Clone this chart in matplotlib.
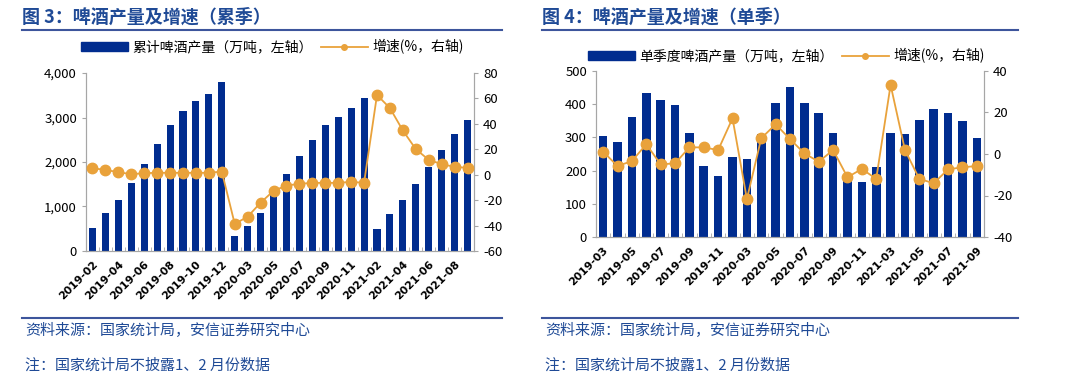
import matplotlib
matplotlib.use("Agg")
import matplotlib.pyplot as plt
from matplotlib.lines import Line2D
from matplotlib.ticker import FuncFormatter, MultipleLocator
import numpy as np

plt.rcParams['font.family'] = ['Noto Sans CJK SC', 'DejaVu Sans']
plt.rcParams['axes.unicode_minus'] = False

BAR_COLOR = "#002C8F"
LINE_COLOR = "#E9A23B"
TITLE_COLOR = "#1F4A96"
RULE_COLOR = "#3D559C"
SPINE_COLOR = "#A6A6A6"

# 图3 累计数据 (2019-02 .. 2021-09, 无1月)
cum_months = (["2019-%02d" % m for m in range(2, 13)]
              + ["2020-%02d" % m for m in range(2, 13)]
              + ["2021-%02d" % m for m in range(2, 10)])
cum_output = [525, 848, 1141, 1531, 1951, 2402, 2822, 3145, 3370, 3535, 3790,
              338, 570, 848, 1260, 1726, 2146, 2499, 2822, 3009, 3204, 3437,
              488, 826, 1141, 1501, 1891, 2274, 2627, 2949]
cum_growth = [5.1, 3.8, 2.0, 0.4, 1.2, 1.5, 1.5, 1.5, 1.5, 1.5, 2.5,
              -38.7, -33.0, -22.0, -12.7, -8.5, -7.2, -6.4, -6.4, -6.4, -5.6, -6.4,
              62.7, 52.4, 34.8, 20.1, 11.7, 8.3, 6.2, 5.4]

# 图4 单月数据 (2019-03 .. 2021-09, 无1、2月)
sgl_months = (["2019-%02d" % m for m in range(3, 13)]
              + ["2020-%02d" % m for m in range(3, 13)]
              + ["2021-%02d" % m for m in range(3, 10)])
sgl_output = [304, 287, 360, 434, 412, 399, 314, 214, 184, 240,
              235, 311, 404, 452, 404, 374, 314, 177, 166, 210,
              314, 309, 352, 387, 374, 349, 297]
sgl_growth = [1.1, -5.8, -3.4, 4.7, -5.0, -4.5, 3.2, 3.2, 1.9, 17.2,
              -21.7, 7.6, 14.3, 7.2, 0.3, -3.7, 1.9, -11.2, -7.2, -12.0,
              33.3, 1.9, -12.0, -14.1, -7.4, -6.4, -5.8]

W, H = 1080, 391
fig = plt.figure(figsize=(W / 100, H / 100), dpi=100)


def px_axes(x0, y0, x1, y1):
    return fig.add_axes([x0 / W, 1 - y1 / H, (x1 - x0) / W, (y1 - y0) / H])


def draw_panel(ax, months, output, growth, ylim_l, step_l, ylim_r, step_r,
               bar_label, bar_w, comma):
    n = len(months)
    x = np.arange(n)
    ax.bar(x, output, width=bar_w, color=BAR_COLOR, zorder=2)
    ax.set_xlim(-0.4, n - 0.6)
    ax.set_ylim(*ylim_l)
    ax.yaxis.set_major_locator(MultipleLocator(step_l))
    if comma:
        ax.yaxis.set_major_formatter(FuncFormatter(lambda v, p: "{:,.0f}".format(v)))
    ax.set_xticks(x[::2])
    ax.set_xticklabels(months[::2], rotation=45, ha="right", rotation_mode="anchor",
                       fontsize=7.8, fontweight="bold", family=["DejaVu Sans"])
    ax.set_xticks(np.arange(n + 1) - 0.5, minor=True)
    ax.tick_params(axis="x", which="major", length=0, pad=6)
    ax.tick_params(axis="x", which="minor", length=3, direction="in", color=SPINE_COLOR)
    ax.tick_params(axis="y", labelsize=9.5, length=3, color=SPINE_COLOR)
    for s in ["left", "bottom", "right"]:
        ax.spines[s].set_color(SPINE_COLOR)
    ax.spines["top"].set_visible(False)

    ax2 = ax.twinx()
    ax2.plot(x, growth, color=LINE_COLOR, lw=1.3, marker="o", ms=7.5, zorder=3)
    ax2.set_ylim(*ylim_r)
    ax2.yaxis.set_major_locator(MultipleLocator(step_r))
    ax2.tick_params(axis="y", labelsize=9.5, length=3, color=SPINE_COLOR)
    for s in ["left", "bottom", "right"]:
        ax2.spines[s].set_color(SPINE_COLOR)
    ax2.spines["top"].set_visible(False)

    h_bar = plt.Rectangle((0, 0), 1, 1, color=BAR_COLOR)
    h_line = Line2D([], [], color=LINE_COLOR, lw=1.3, marker="o", ms=4)
    return [h_bar, h_line], [bar_label, "增速(%，右轴)"]


# left panel
axL = px_axes(86, 73, 474, 251)
hL, lL = draw_panel(axL, cum_months, cum_output, cum_growth, (0, 4000), 1000,
                    (-60, 80), 20, "累计啤酒产量（万吨，左轴）", 0.55, True)
fig.legend(hL, lL, loc="center", bbox_to_anchor=(272 / W, 1 - 47 / H), ncol=2,
           frameon=False, fontsize=10, handlelength=3.4, handleheight=0.55,
           columnspacing=0.6, handletextpad=0.3)

# right panel
axR = px_axes(596, 71, 984, 237)
hR, lR = draw_panel(axR, sgl_months, sgl_output, sgl_growth, (0, 500), 100,
                    (-40, 40), 20, "单季度啤酒产量（万吨，左轴）", 0.6, False)
fig.legend(hR, lR, loc="center", bbox_to_anchor=(786 / W, 1 - 56 / H), ncol=2,
           frameon=False, fontsize=10, handlelength=3.4, handleheight=0.55,
           columnspacing=0.6, handletextpad=0.3)

# titles, rules, footers
for x0, x1, title in [(22, 502, "图 3：啤酒产量及增速（累季）"),
                      (542, 1018, "图 4：啤酒产量及增速（单季）")]:
    fig.text(x0 / W, 1 - 17 / H, title, color=TITLE_COLOR, fontsize=13,
             fontweight="bold", va="center", ha="left")
    fig.add_artist(Line2D([x0 / W, x1 / W], [1 - 30 / H, 1 - 30 / H],
                          color=RULE_COLOR, lw=1.5))
    fig.add_artist(Line2D([x0 / W, x1 / W], [1 - 318 / H, 1 - 318 / H],
                          color=RULE_COLOR, lw=1.5))
    fig.text((x0 + 3) / W, 1 - 331 / H, "资料来源：国家统计局，安信证券研究中心",
             color=TITLE_COLOR, fontsize=10.8, va="center", ha="left", style="italic")
    fig.text((x0 + 3) / W, 1 - 366 / H, "注：国家统计局不披露1、2 月份数据",
             color=TITLE_COLOR, fontsize=10.8, va="center", ha="left", style="italic")

fig.savefig("out.png", dpi=100)
